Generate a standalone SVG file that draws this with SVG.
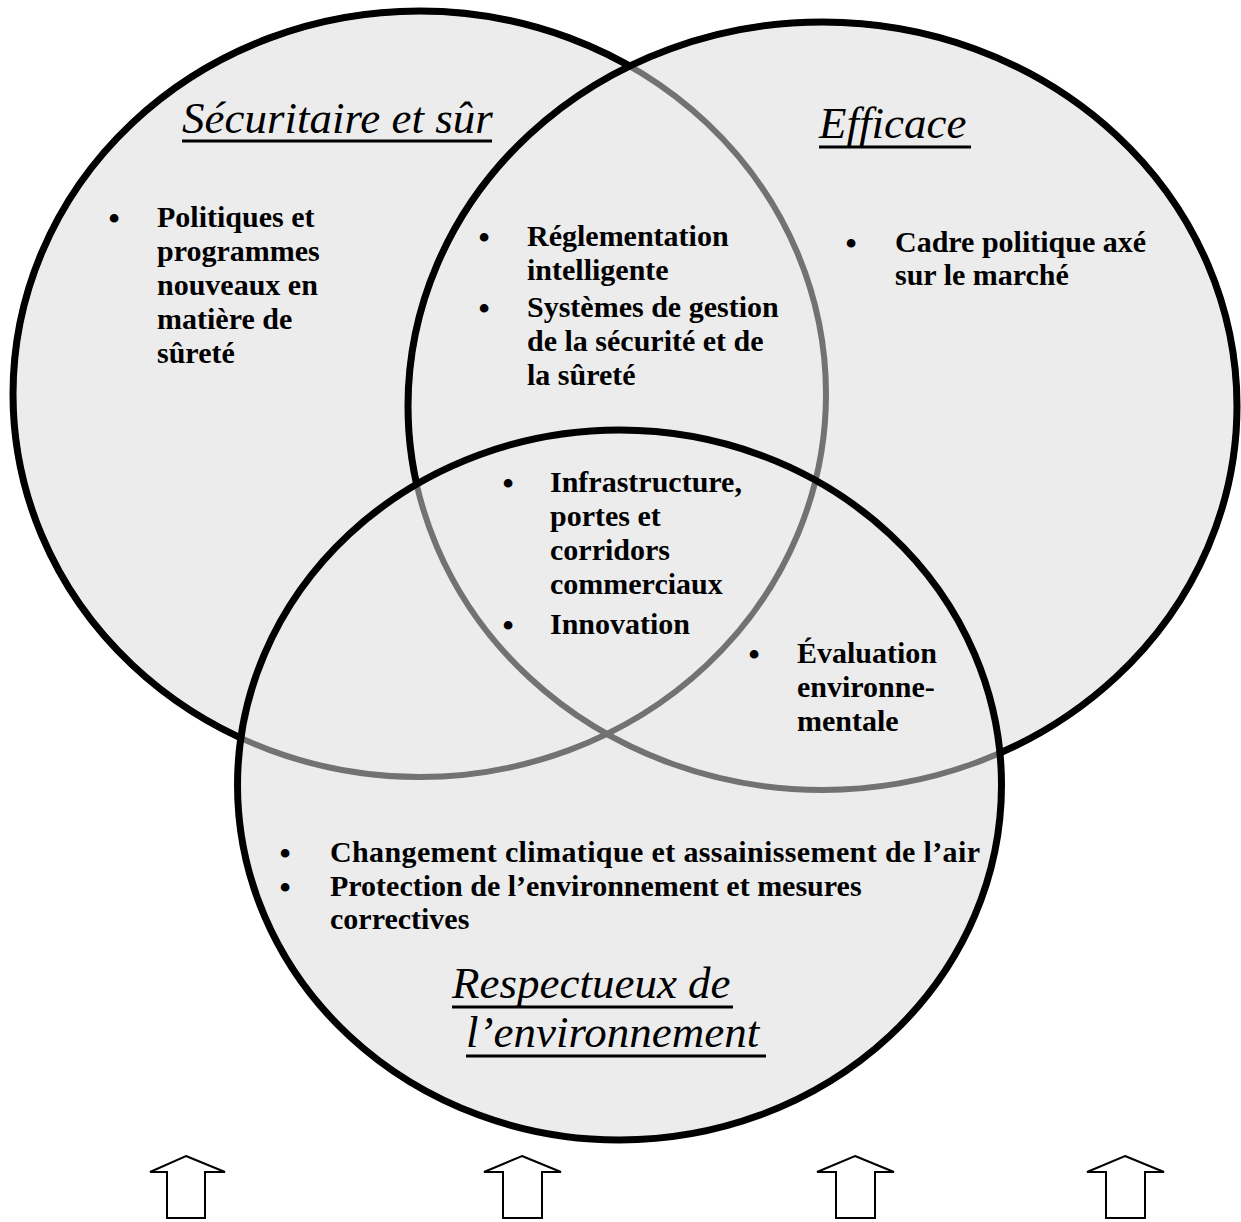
<svg xmlns="http://www.w3.org/2000/svg" width="1241" height="1222" viewBox="0 0 1241 1222">
<style>
.fill{fill:#ececec;stroke:none}
.blk{fill:none;stroke:#000;stroke-width:7}
.gry{fill:none;stroke:#727272;stroke-width:6}
.title{font-family:"Liberation Serif","Times New Roman",serif;font-style:italic;font-size:45px;fill:#000}
.body{font-family:"Liberation Serif","Times New Roman",serif;font-weight:bold;font-size:30px;fill:#000}
.bul{font-family:"Liberation Serif","Times New Roman",serif;font-weight:bold;font-size:32px;fill:#000;text-anchor:middle}
.ul{stroke:#000;stroke-width:3}
.arrow{fill:#fff;stroke:#000;stroke-width:2;stroke-linejoin:miter}
</style>
<defs>
<mask id="outBottom" maskUnits="userSpaceOnUse" x="0" y="0" width="1241" height="1222">
<rect x="0" y="0" width="1241" height="1222" fill="#fff"/>
<ellipse cx="619.5" cy="785" rx="382" ry="355" fill="#000"/>
</mask>
<mask id="outRightBottom" maskUnits="userSpaceOnUse" x="0" y="0" width="1241" height="1222">
<rect x="0" y="0" width="1241" height="1222" fill="#fff"/>
<ellipse cx="619.5" cy="785" rx="382" ry="355" fill="#000"/>
<ellipse cx="822.5" cy="406" rx="414.5" ry="384" fill="#000"/>
</mask>
</defs>
<rect x="0" y="0" width="1241" height="1222" fill="#fff"/>
<g id="fills">
<ellipse class="fill" cx="419.5" cy="394" rx="406.5" ry="383"/>
<ellipse class="fill" cx="822.5" cy="406" rx="414.5" ry="384"/>
<ellipse class="fill" cx="619.5" cy="785" rx="382" ry="355"/>
</g>
<g id="circle-securitaire">
<ellipse class="gry" cx="419.5" cy="394" rx="406.5" ry="383"/>
<ellipse class="blk" cx="419.5" cy="394" rx="406.5" ry="383" mask="url(#outRightBottom)"/>
</g>
<g id="circle-efficace">
<ellipse class="gry" cx="822.5" cy="406" rx="414.5" ry="384"/>
<ellipse class="blk" cx="822.5" cy="406" rx="414.5" ry="384" mask="url(#outBottom)"/>
</g>
<g id="circle-environnement">
<ellipse class="blk" cx="619.5" cy="785" rx="382" ry="355"/>
</g>
<g id="title-securitaire">
<text class="title" x="182" y="133">Sécuritaire et sûr</text>
<line class="ul" x1="182" y1="141" x2="492" y2="141"/>
</g>
<g id="title-efficace">
<text class="title" x="819" y="138">Efficace</text>
<line class="ul" x1="819" y1="147" x2="971" y2="147"/>
</g>
<g id="title-environnement">
<text class="title" x="452" y="998">Respectueux de</text>
<line class="ul" x1="452" y1="1007" x2="733" y2="1007"/>
<text class="title" x="466" y="1047">l’environnement</text>
<line class="ul" x1="466" y1="1056" x2="766" y2="1056"/>
</g>
<g id="node-securitaire-items">
<text class="bul" x="114" y="229">•</text>
<text class="body" x="157" y="227">Politiques et</text>
<text class="body" x="157" y="261">programmes</text>
<text class="body" x="157" y="295">nouveaux en</text>
<text class="body" x="157" y="329">matière de</text>
<text class="body" x="157" y="363">sûreté</text>
</g>
<g id="node-securitaire-efficace-items">
<text class="bul" x="484" y="248">•</text>
<text class="body" x="527" y="246">Réglementation</text>
<text class="body" x="527" y="280">intelligente</text>
<text class="bul" x="484" y="319">•</text>
<text class="body" x="527" y="317">Systèmes de gestion</text>
<text class="body" x="527" y="351">de la sécurité et de</text>
<text class="body" x="527" y="385">la sûreté</text>
</g>
<g id="node-efficace-items">
<text class="bul" x="851" y="254">•</text>
<text class="body" x="895" y="252">Cadre politique axé</text>
<text class="body" x="895" y="285">sur le marché</text>
</g>
<g id="node-centre-items">
<text class="bul" x="508" y="494">•</text>
<text class="body" x="550" y="492">Infrastructure,</text>
<text class="body" x="550" y="526">portes et</text>
<text class="body" x="550" y="560">corridors</text>
<text class="body" x="550" y="594">commerciaux</text>
<text class="bul" x="508" y="636">•</text>
<text class="body" x="550" y="634">Innovation</text>
</g>
<g id="node-efficace-environnement-items">
<text class="bul" x="754" y="665">•</text>
<text class="body" x="797" y="663">Évaluation</text>
<text class="body" x="797" y="697">environne-</text>
<text class="body" x="797" y="731">mentale</text>
</g>
<g id="node-environnement-items">
<text class="bul" x="285" y="864">•</text>
<text class="body" x="330" y="862" textLength="650" lengthAdjust="spacing">Changement climatique et assainissement de l’air</text>
<text class="bul" x="285" y="898">•</text>
<text class="body" x="330" y="896">Protection de l’environnement et mesures</text>
<text class="body" x="330" y="929">correctives</text>
</g>
<g id="connectors">
<path class="arrow" d="M186,1156 L225,1172 L205,1172 L205,1218 L167,1218 L167,1172 L150,1172 Z"/>
<path class="arrow" d="M522,1156 L561,1172 L542,1172 L542,1218 L503,1218 L503,1172 L484,1172 Z"/>
<path class="arrow" d="M855,1156 L894,1172 L875,1172 L875,1218 L836,1218 L836,1172 L817,1172 Z"/>
<path class="arrow" d="M1125,1156 L1164,1172 L1145,1172 L1145,1218 L1106,1218 L1106,1172 L1087,1172 Z"/>
</g>
</svg>
